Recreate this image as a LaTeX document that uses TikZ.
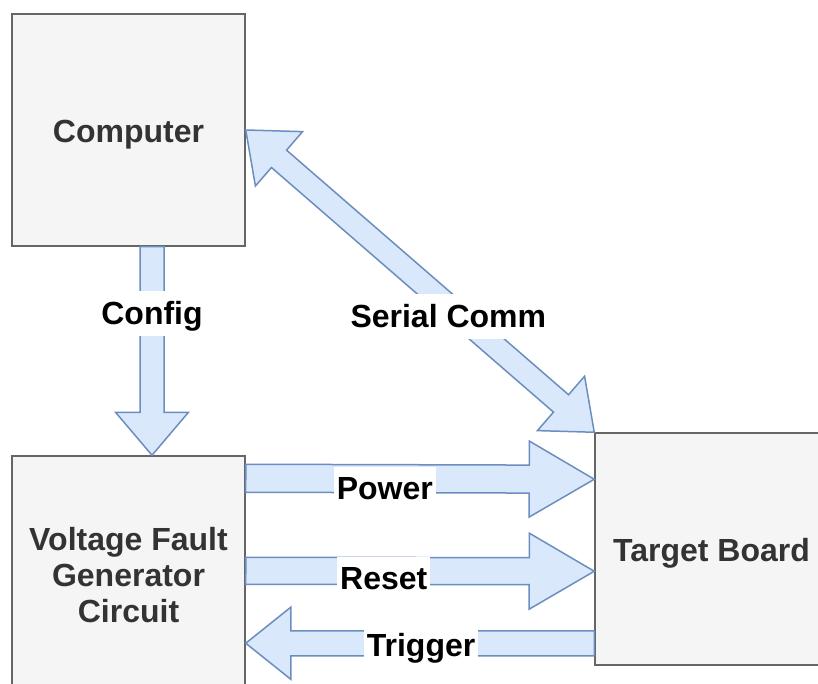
\documentclass[tikz,border=0pt]{standalone}
\usepackage{fontspec}
\setmainfont{Liberation Sans}
\usetikzlibrary{calc}
\definecolor{bleu}{HTML}{DAE8FC}
\definecolor{bleutrait}{HTML}{6C8EBF}
\definecolor{gris}{HTML}{F5F5F5}
\definecolor{gristrait}{HTML}{666666}
\definecolor{texte}{HTML}{333333}
\tikzset{
  boite/.style={draw=gristrait, fill=gris, line width=1.5pt, minimum width=233pt, minimum height=232pt,
    text=texte, align=center, font=\fontsize{32}{36}\selectfont\bfseries},
  uneligne/.style={text height=32pt, text depth=7pt},
  fleche/.style={draw=bleutrait, fill=bleu, line width=1.5pt, line join=miter},
  etiquette/.style={fill=white, anchor=base, text height=28pt, text depth=7pt, inner xsep=3pt, inner ysep=5pt,
    font=\fontsize{32}{36}\selectfont\bfseries}
}
% #1 nom, #2 depart, #3 arrivee, #4 demi-corps, #5 demi-tete, #6 longueur tete
\newcommand{\fleche}[6]{
  \coordinate (#1-s) at (#2); \coordinate (#1-t) at (#3);
  \coordinate (#1-h) at ($(#1-t)!#6!(#1-s)$);
  \draw[fleche] ($(#1-s)!#4!90:(#1-t)$) -- ($(#1-h)!#4!90:(#1-t)$) -- ($(#1-h)!#5!90:(#1-t)$) -- (#1-t)
    -- ($(#1-h)!#5!-90:(#1-t)$) -- ($(#1-h)!#4!-90:(#1-t)$) -- ($(#1-s)!#4!-90:(#1-t)$) -- cycle;
}
% fleche a deux tetes
\newcommand{\doublefleche}[6]{
  \coordinate (#1-s) at (#2); \coordinate (#1-t) at (#3);
  \coordinate (#1-a) at ($(#1-s)!#6!(#1-t)$);
  \coordinate (#1-b) at ($(#1-t)!#6!(#1-s)$);
  \draw[fleche] (#1-s) -- ($(#1-a)!#5!90:(#1-t)$) -- ($(#1-a)!#4!90:(#1-t)$) -- ($(#1-b)!#4!90:(#1-t)$)
    -- ($(#1-b)!#5!90:(#1-t)$) -- (#1-t) -- ($(#1-b)!#5!-90:(#1-t)$) -- ($(#1-b)!#4!-90:(#1-t)$)
    -- ($(#1-a)!#4!-90:(#1-t)$) -- ($(#1-a)!#5!-90:(#1-t)$) -- cycle;
}
\begin{document}
\begin{tikzpicture}[x=1pt,y=-1pt]
\useasboundingbox (0,0) rectangle (818,684);
\clip (0,0) rectangle (818,684);

% les boites
\node[boite, uneligne] (ordi) at (128.5,130) {Computer};
\node[boite, minimum height=238pt] (vfg) at (128.5,575) {Voltage Fault\\Generator\\Circuit};
\node[boite, uneligne] (cible) at (711.5,549) {Target Board};

% les fleches
\fleche{config}{$(ordi.south)+(23.5,0)$}{$(vfg.north)+(23.5,0)$}{12pt}{36.5pt}{43pt}
\doublefleche{serie}{ordi.east}{cible.north west}{11.5pt}{36pt}{44pt}
\fleche{power}{$(vfg.north east)+(0,23)$}{$(cible.north west)+(0,47)$}{14pt}{38pt}{65pt}
\fleche{reset}{$(vfg.north east)+(0,115.5)$}{$(cible.north west)+(0,139)$}{13.5pt}{38pt}{65pt}
\fleche{trigger}{$(cible.north west)+(0,211)$}{$(vfg.north east)+(0,188)$}{12.5pt}{36pt}{45pt}

% les etiquettes
\path (config-s) -- (config-t) node[etiquette, pos=0.371] (lconfig) {Config};
\path (serie-s) -- (serie-t) node[etiquette, pos=0.653, xshift=-25pt] (lserie) {Serial Comm};
\path (power-s) -- (power-t) node[etiquette, pos=0.399, yshift=-21pt] (lpower) {Power};
\path (reset-s) -- (reset-t) node[etiquette, pos=0.396, yshift=-19pt] (lreset) {Reset};
\path (trigger-s) -- (trigger-t) node[etiquette, pos=0.497, yshift=-13.5pt] (ltrigger) {Trigger};

\end{tikzpicture}
\end{document}
